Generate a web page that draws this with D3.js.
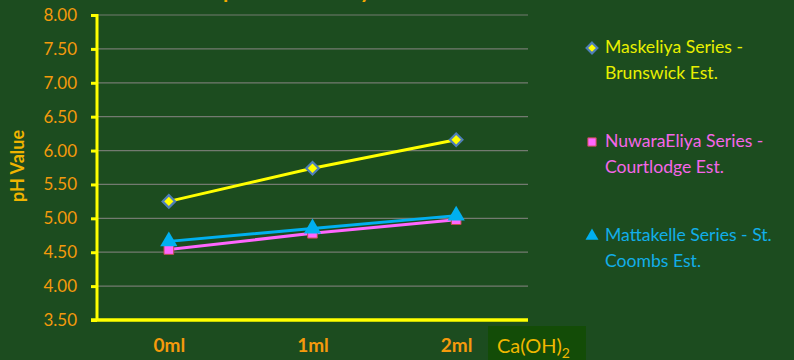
<!DOCTYPE html>
<html>
<head>
<meta charset="utf-8">
<script src="https://cdn.jsdelivr.net/npm/d3@7/dist/d3.min.js"></script>
<style>
  html, body { margin: 0; padding: 0; background: #1c4c1f; }
  svg { display: block; font-family: Lato, "Open Sans", sans-serif; }
</style>
</head>
<body>
<svg id="chart" width="794" height="360"></svg>
<script>
// Lime dose categories and y-axis ticks
const doses = ["0ml", "1ml", "2ml"];
const yTicks = [3.5, 4.0, 4.5, 5.0, 5.5, 6.0, 6.5, 7.0, 7.5, 8.0];

// pH readings per soil series
const maskeliya = [5.25, 5.74, 6.16];
const nuwaraEliya = [4.54, 4.78, 4.98];
const mattakelle = [4.66, 4.85, 5.04];

const seriesNames = [
  ["Maskeliya Series -", "Brunswick Est."],
  ["NuwaraEliya Series -", "Courtlodge Est."],
  ["Mattakelle Series - St.", "Coombs Est."]
];

const series = [
  { name: seriesNames[0], values: maskeliya, color: "#ffff00", text: "#e8f000", marker: "diamond" },
  { name: seriesNames[1], values: nuwaraEliya, color: "#ff66ff", text: "#f566e8", marker: "square" },
  { name: seriesNames[2], values: mattakelle, color: "#00b0f0", text: "#12aee8", marker: "triangle" }
];

const svg = d3.select("#chart");
const plot = { left: 97, right: 528, top: 15, bottom: 320 };

const x = d3.scalePoint().domain(doses).range([plot.left, plot.right]).padding(0.5);
const y = d3.scaleLinear().domain([3.5, 8]).range([plot.bottom, plot.top]);

// Title (sits mostly above the visible area)
const title = svg.append("text")
  .attr("y", -2)
  .attr("fill", "#f5a800")
  .attr("font-weight", "bold")
  .attr("font-size", 21.5)
  .text("Soil pH Variation by Series");
const pIdx = title.text().indexOf("p");
const offset = title.node().getSubStringLength(0, pIdx);
title.attr("x", 223 - offset);

// Horizontal gridlines
svg.append("g")
  .selectAll("line")
  .data(yTicks.slice(1))
  .join("line")
  .attr("x1", plot.left).attr("x2", plot.right)
  .attr("y1", d => y(d)).attr("y2", d => y(d))
  .attr("stroke", "#737a70").attr("stroke-width", 1.2);

// Y axis
const yAxis = svg.append("g")
  .attr("transform", `translate(${plot.left},0)`)
  .call(d3.axisLeft(y).tickValues(yTicks).tickFormat(d3.format(".2f")).tickSize(6).tickPadding(14));
yAxis.select(".domain").attr("stroke", "#ffff00").attr("stroke-width", 3)
  .attr("d", `M0,${plot.top - 1}V${plot.bottom + 1}`);
yAxis.selectAll(".tick line").attr("stroke", "#ffff00").attr("stroke-width", 3);
yAxis.selectAll(".tick text")
  .attr("fill", "#f39a0c").attr("font-size", 17)
  .attr("font-family", "Lato, sans-serif");

// X axis
const xAxis = svg.append("g")
  .attr("transform", `translate(0,${plot.bottom})`)
  .call(d3.axisBottom(x).tickSize(0).tickPadding(19));
xAxis.select(".domain").attr("stroke", "#ffff00").attr("stroke-width", 3.5)
  .attr("d", `M${plot.left - 6},0H${plot.right}`);
xAxis.selectAll(".tick text")
  .attr("fill", "#f59a0c").attr("font-size", 19).attr("font-weight", "bold")
  .attr("font-family", "Lato, sans-serif");

// Y axis title
svg.append("text")
  .attr("transform", "translate(24,166) rotate(-90)")
  .attr("text-anchor", "middle")
  .attr("fill", "#f0b400")
  .attr("font-weight", "bold")
  .attr("font-size", 18)
  .text("pH Value");

// X axis unit label
svg.append("rect")
  .attr("x", 488).attr("y", 326).attr("width", 98).attr("height", 34)
  .attr("fill", "#134c07");
const unit = svg.append("text")
  .attr("x", 497).attr("y", 353)
  .attr("fill", "#f0b800")
  .attr("font-size", 20);
unit.append("tspan").text("Ca(OH)");
unit.append("tspan").attr("font-size", 14).attr("dy", 5).text("2");

// Marker drawing
function drawMarker(g, type, size) {
  if (type === "diamond") {
    g.append("path")
      .attr("d", d3.symbol(d3.symbolDiamond2, size * size * 0.9)())
      .attr("fill", "#ffff00").attr("stroke", "#4f7fb8").attr("stroke-width", 2.2);
  } else if (type === "square") {
    g.append("path")
      .attr("d", d3.symbol(d3.symbolSquare, size * size * 0.85)())
      .attr("fill", "#ff66ff").attr("stroke", "#c0504d").attr("stroke-width", 1);
  } else {
    g.append("path")
      .attr("d", d3.symbol(d3.symbolTriangle, size * size * 0.9)())
      .attr("fill", "#00b0f0");
  }
}

const line = d3.line().x((d, i) => x(doses[i])).y(d => y(d));

// Lines drawn bottom-up so yellow series is on top
[series[1], series[2], series[0]].forEach(s => {
  svg.append("path")
    .datum(s.values)
    .attr("d", line)
    .attr("fill", "none")
    .attr("stroke", s.color)
    .attr("stroke-width", 3);
  s.values.forEach((v, i) => {
    const g = svg.append("g").attr("transform", `translate(${x(doses[i])},${y(v)})`);
    drawMarker(g, s.marker, s.marker === "triangle" ? 12 : 10.5);
  });
});

// Legend
const legendRows = [48, 142, 236];
series.forEach((s, k) => {
  const gy = legendRows[k];
  const g = svg.append("g").attr("transform", `translate(592,${gy})`);
  drawMarker(g, s.marker, 9);
  const t = svg.append("text")
    .attr("x", 605).attr("y", gy + 5)
    .attr("fill", s.text).attr("font-size", 17.6);
  t.append("tspan").attr("x", 605).text(s.name[0]);
  t.append("tspan").attr("x", 605).attr("dy", 25.5).text(s.name[1]);
});
</script>
</body>
</html>
